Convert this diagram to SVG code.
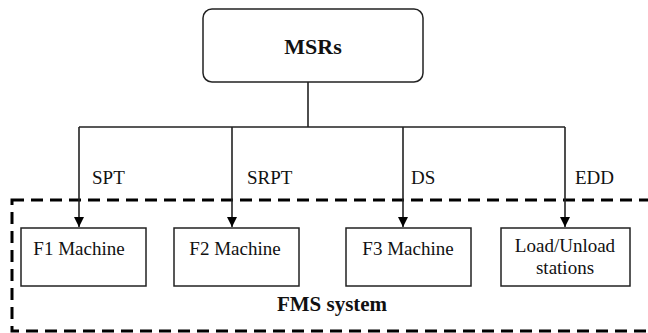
<svg xmlns="http://www.w3.org/2000/svg" width="648" height="333" viewBox="0 0 648 333">
<defs>
<marker id="arr" viewBox="0 0 10 10" refX="10" refY="5" markerWidth="10" markerHeight="10" markerUnits="userSpaceOnUse" orient="auto">
<path d="M0,0 L10,5 L0,10 z" fill="#000"/>
</marker>
</defs>
<style>
.t{font-family:'Liberation Serif','DejaVu Serif',serif;font-size:19px;fill:#111}
.b{font-weight:bold}
.box{fill:#fff;stroke:#222;stroke-width:1.5}
.c{fill:none;stroke:#222;stroke-width:1.6}
</style>
<rect width="648" height="333" fill="#fff"/>
<g id="fms">
<rect x="12" y="200" width="660" height="131" fill="none" stroke="#000" stroke-width="3" stroke-dasharray="12,7"/>
<text class="t b" x="332" y="311" text-anchor="middle" style="font-size:21px">FMS system</text>
</g>
<g id="msrs">
<rect class="box" x="203" y="9" width="220" height="73" rx="9"/>
<text class="t b" x="313" y="54" text-anchor="middle" style="font-size:22px">MSRs</text>
</g>
<g id="f1">
<rect class="box" x="21" y="228" width="125" height="58"/>
<text class="t" x="79" y="255" text-anchor="middle">F1 Machine</text>
</g>
<g id="f2">
<rect class="box" x="174" y="228" width="125" height="58"/>
<text class="t" x="235" y="255" text-anchor="middle">F2 Machine</text>
</g>
<g id="f3">
<rect class="box" x="346" y="228" width="125" height="58"/>
<text class="t" x="408" y="255" text-anchor="middle">F3 Machine</text>
</g>
<g id="lu">
<rect class="box" x="501" y="228" width="129" height="58"/>
<text class="t" x="565" y="252" text-anchor="middle">Load/Unload</text>
<text class="t" x="565" y="274" text-anchor="middle">stations</text>
</g>
<g id="connectors">
<path class="c" d="M308,82 V127 M79,127 H565"/>
<path class="c" d="M79,127 V227" marker-end="url(#arr)"/>
<path class="c" d="M232,127 V227" marker-end="url(#arr)"/>
<path class="c" d="M403,127 V227" marker-end="url(#arr)"/>
<path class="c" d="M565,127 V227" marker-end="url(#arr)"/>
<text class="t" x="92" y="184">SPT</text>
<text class="t" x="247" y="184">SRPT</text>
<text class="t" x="411" y="184">DS</text>
<text class="t" x="575" y="184">EDD</text>
</g>
</svg>
